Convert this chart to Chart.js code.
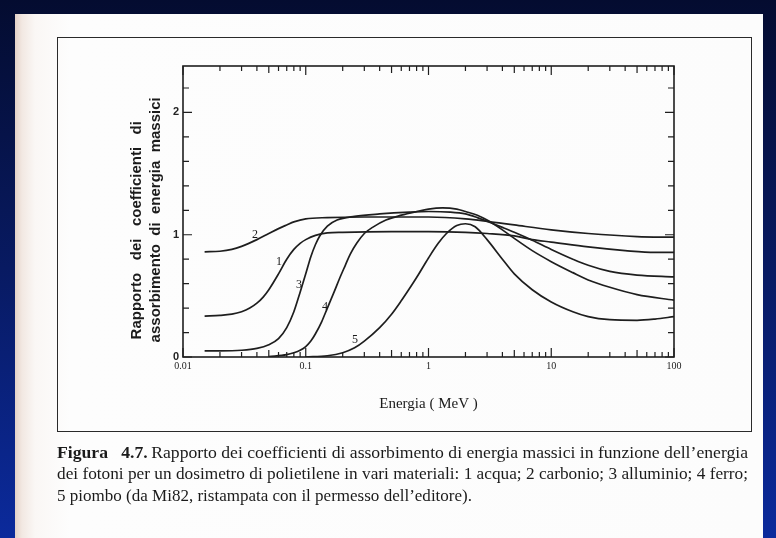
<!DOCTYPE html>
<html>
<head>
<meta charset="utf-8">
<script src="https://cdn.jsdelivr.net/npm/chart.js@4.4.1/dist/chart.umd.min.js"></script>
<style>
html, body { margin:0; padding:0; }
body { width:776px; height:538px; overflow:hidden; position:relative;
  background: linear-gradient(180deg, #040c30 0%, #081a62 50%, #0b2a9c 100%); }
#page { position:absolute; left:15px; top:14px; width:748px; height:524px;
  background: linear-gradient(90deg, #e4d2c8 0px, #f2e8e2 7px, #faf7f5 20px, #fdfdfd 55px, #fcfcfc 100%); }
#frame { position:absolute; left:57px; top:37px; width:695px; height:395px; border:1.5px solid #2a2a2a; box-sizing:border-box; }
#grafico { position:absolute; left:0; top:0; }
.cap { position:absolute; left:57px; font-family:'Liberation Serif', serif; font-size:17px; line-height:20px; color:#1b1b1b; white-space:nowrap; transform-origin:0 0; }
</style>
</head>
<body>
<div id="page"></div>
<div id="frame"></div>
<canvas id="grafico" width="776" height="538"></canvas>
<div class="cap" id="cap1" style="top:443px"><b>Figura&nbsp;&nbsp;&nbsp;4.7.</b>&#8201;Rapporto dei coefficienti di assorbimento di energia massici in funzione dell’energia</div>
<div class="cap" id="cap2" style="top:464px">dei fotoni per un dosimetro di polietilene in vari materiali: 1 acqua; 2 carbonio; 3 alluminio; 4 ferro;</div>
<div class="cap" id="cap3" style="top:486px">5 piombo (da Mi82, ristampata con il permesso dell’editore).</div>
<script>
// 1 acqua
var energiaAcqua = [0.015, 0.02, 0.025, 0.03, 0.035, 0.04, 0.045, 0.05, 0.06, 0.07, 0.08, 0.09, 0.1, 0.12, 0.15, 0.2, 0.5, 1, 2, 3, 5, 7, 10, 20, 40, 70, 100];
var rapportoAcqua = [0.335, 0.34, 0.35, 0.37, 0.40, 0.44, 0.49, 0.55, 0.68, 0.80, 0.88, 0.93, 0.96, 0.995, 1.015, 1.02, 1.025, 1.025, 1.02, 1.01, 0.99, 0.96, 0.94, 0.90, 0.87, 0.855, 0.855];
// 2 carbonio
var energiaCarbonio = [0.015, 0.02, 0.025, 0.03, 0.04, 0.05, 0.06, 0.07, 0.08, 0.1, 0.15, 0.3, 1, 2, 3, 5, 10, 20, 50, 100];
var rapportoCarbonio = [0.86, 0.865, 0.88, 0.905, 0.96, 1.01, 1.05, 1.08, 1.105, 1.13, 1.14, 1.145, 1.145, 1.13, 1.11, 1.08, 1.04, 1.01, 0.985, 0.98];
// 3 alluminio
var energiaAlluminio = [0.015, 0.02, 0.03, 0.04, 0.05, 0.06, 0.07, 0.08, 0.09, 0.1, 0.11, 0.12, 0.13, 0.15, 0.18, 0.25, 0.4, 0.7, 1, 1.5, 2, 2.5, 3, 4, 5, 7, 10, 15, 20, 30, 50, 100];
var rapportoAlluminio = [0.05, 0.05, 0.055, 0.07, 0.1, 0.15, 0.24, 0.37, 0.53, 0.68, 0.82, 0.92, 0.99, 1.07, 1.12, 1.15, 1.17, 1.185, 1.19, 1.185, 1.17, 1.14, 1.11, 1.06, 1.02, 0.955, 0.88, 0.80, 0.75, 0.70, 0.67, 0.655];
// 4 ferro
var energiaFerro = [0.05, 0.07, 0.08, 0.09, 0.1, 0.11, 0.12, 0.135, 0.15, 0.17, 0.19, 0.21, 0.23, 0.26, 0.3, 0.35, 0.45, 0.6, 0.8, 1, 1.3, 1.7, 2, 2.5, 3, 4, 5, 7, 10, 15, 20, 30, 50, 100];
var rapportoFerro = [0.003, 0.02, 0.035, 0.055, 0.085, 0.13, 0.19, 0.29, 0.4, 0.53, 0.65, 0.75, 0.84, 0.93, 1.01, 1.06, 1.12, 1.16, 1.19, 1.21, 1.22, 1.21, 1.19, 1.16, 1.12, 1.04, 0.97, 0.87, 0.78, 0.69, 0.63, 0.57, 0.51, 0.465];
// 5 piombo
var energiaPiombo = [0.1, 0.15, 0.2, 0.25, 0.3, 0.4, 0.5, 0.6, 0.7, 0.8, 1, 1.2, 1.4, 1.7, 2, 2.4, 3, 4, 5, 7, 10, 15, 20, 30, 50, 70, 100];
var rapportoPiombo = [0.0, 0.01, 0.035, 0.075, 0.13, 0.24, 0.35, 0.46, 0.56, 0.65, 0.81, 0.93, 1.01, 1.075, 1.09, 1.065, 0.96, 0.8, 0.68, 0.55, 0.45, 0.37, 0.33, 0.305, 0.30, 0.31, 0.33];

var xTickValues = [0.01, 0.1, 1, 10, 100];
var xTickLabels = ['0.01', '0.1', '1', '10', '100'];
var yTickValues = [0, 1, 2];
var yTickLabels = ['0', '1', '2'];

// numeri delle curve (in unita' dei dati)
var curveNomi = ['1', '2', '3', '4', '5'];
var curveNomiE = [0.0605, 0.0386, 0.0881, 0.1435, 0.252];
var curveNomiV = [0.78, 0.996, 0.588, 0.408, 0.139];

function punti(ee, vv) {
  var out = [];
  for (var i = 0; i < ee.length; i++) out.push({x: ee[i], y: vv[i]});
  return out;
}

var decorazioni = {
  id: 'decorazioni',
  afterDatasetsDraw: function(chart) {
    var ctx = chart.ctx, a = chart.chartArea;
    var xs = chart.scales.x, ys = chart.scales.y;
    ctx.save();
    ctx.strokeStyle = '#1e1e1e';
    ctx.lineWidth = 1.6;
    ctx.strokeRect(a.left, a.top, a.right - a.left, a.bottom - a.top);
    ctx.lineWidth = 1.2;
    ctx.beginPath();
    for (var d = 0; d < 4; d++) {
      for (var k = 1; k <= 10; k++) {
        var v = xTickValues[d] * k;
        var px = xs.getPixelForValue(v);
        var len = (k == 1 || k == 10) ? 9 : (k == 5 ? 7 : 5);
        ctx.moveTo(px, a.bottom); ctx.lineTo(px, a.bottom - len);
        ctx.moveTo(px, a.top); ctx.lineTo(px, a.top + len);
      }
    }
    for (var i = 0; i <= 11; i++) {
      var py = ys.getPixelForValue(i * 0.2);
      var l2 = (i % 5 == 0) ? 9 : 6;
      ctx.moveTo(a.left, py); ctx.lineTo(a.left + l2, py);
      ctx.moveTo(a.right, py); ctx.lineTo(a.right - l2, py);
    }
    ctx.stroke();
    ctx.fillStyle = '#1b1b1b';
    ctx.font = '12px "Liberation Serif"';
    ctx.textAlign = 'center';
    ctx.textBaseline = 'middle';
    for (var j = 0; j < curveNomi.length; j++) {
      ctx.fillText(curveNomi[j], xs.getPixelForValue(curveNomiE[j]), ys.getPixelForValue(curveNomiV[j]));
    }
    ctx.restore();
  }
};

var ctx = document.getElementById('grafico').getContext('2d');
var grafico = new Chart(ctx, {
  type: 'line',
  data: {
    datasets: [
      {label: '1 acqua', data: punti(energiaAcqua, rapportoAcqua)},
      {label: '2 carbonio', data: punti(energiaCarbonio, rapportoCarbonio)},
      {label: '3 alluminio', data: punti(energiaAlluminio, rapportoAlluminio)},
      {label: '4 ferro', data: punti(energiaFerro, rapportoFerro)},
      {label: '5 piombo', data: punti(energiaPiombo, rapportoPiombo)}
    ]
  },
  options: {
    responsive: false,
    animation: false,
    layout: {padding: {left: 123, top: 66, right: 102, bottom: 121}},
    plugins: {legend: {display: false}, tooltip: {enabled: false}},
    elements: {
      point: {radius: 0},
      line: {borderWidth: 1.7, borderColor: '#1e1e1e', cubicInterpolationMode: 'monotone', fill: false}
    },
    scales: {
      x: {
        type: 'logarithmic', min: 0.01, max: 100,
        afterBuildTicks: function(s) { s.ticks = xTickValues.map(function(v) { return {value: v}; }); },
        afterFit: function(s) { s.height = 60; },
        grid: {display: false, drawTicks: false},
        border: {display: false},
        ticks: {autoSkip: false, maxRotation: 0, padding: 3, color: '#222',
          font: {family: 'Liberation Serif', size: 10},
          callback: function(v, i) { return xTickLabels[i]; }},
        title: {display: true, text: 'Energia ( MeV )', color: '#1b1b1b',
          font: {family: 'Liberation Serif', size: 15}, padding: {top: 0, bottom: 4}}
      },
      y: {
        type: 'linear', min: 0, max: 2.38,
        afterBuildTicks: function(s) { s.ticks = yTickValues.map(function(v) { return {value: v}; }); },
        afterFit: function(s) { s.width = 60; },
        grid: {display: false, drawTicks: false},
        border: {display: false},
        ticks: {padding: 4, color: '#222', font: {family: 'Liberation Sans', size: 11, weight: 'bold'},
          callback: function(v, i) { return yTickLabels[i]; }},
        title: {display: true, color: '#1b1b1b',
          text: ['Rapporto   dei   coefficienti   di         ', 'assorbimento  di  energia  massici    '],
          font: {family: 'Liberation Sans', size: 15, weight: 'bold', lineHeight: 1.27},
          padding: {top: 4, bottom: 0}}
      }
    }
  },
  plugins: [decorazioni]
});

// adatta le righe della didascalia alla larghezza della pagina
var larghezze = {cap1: 691, cap2: 691, cap3: 415};
for (var id in larghezze) {
  var el = document.getElementById(id);
  var w = el.getBoundingClientRect().width;
  el.style.transform = 'scaleX(' + (larghezze[id] / w) + ')';
}
</script>
</body>
</html>
